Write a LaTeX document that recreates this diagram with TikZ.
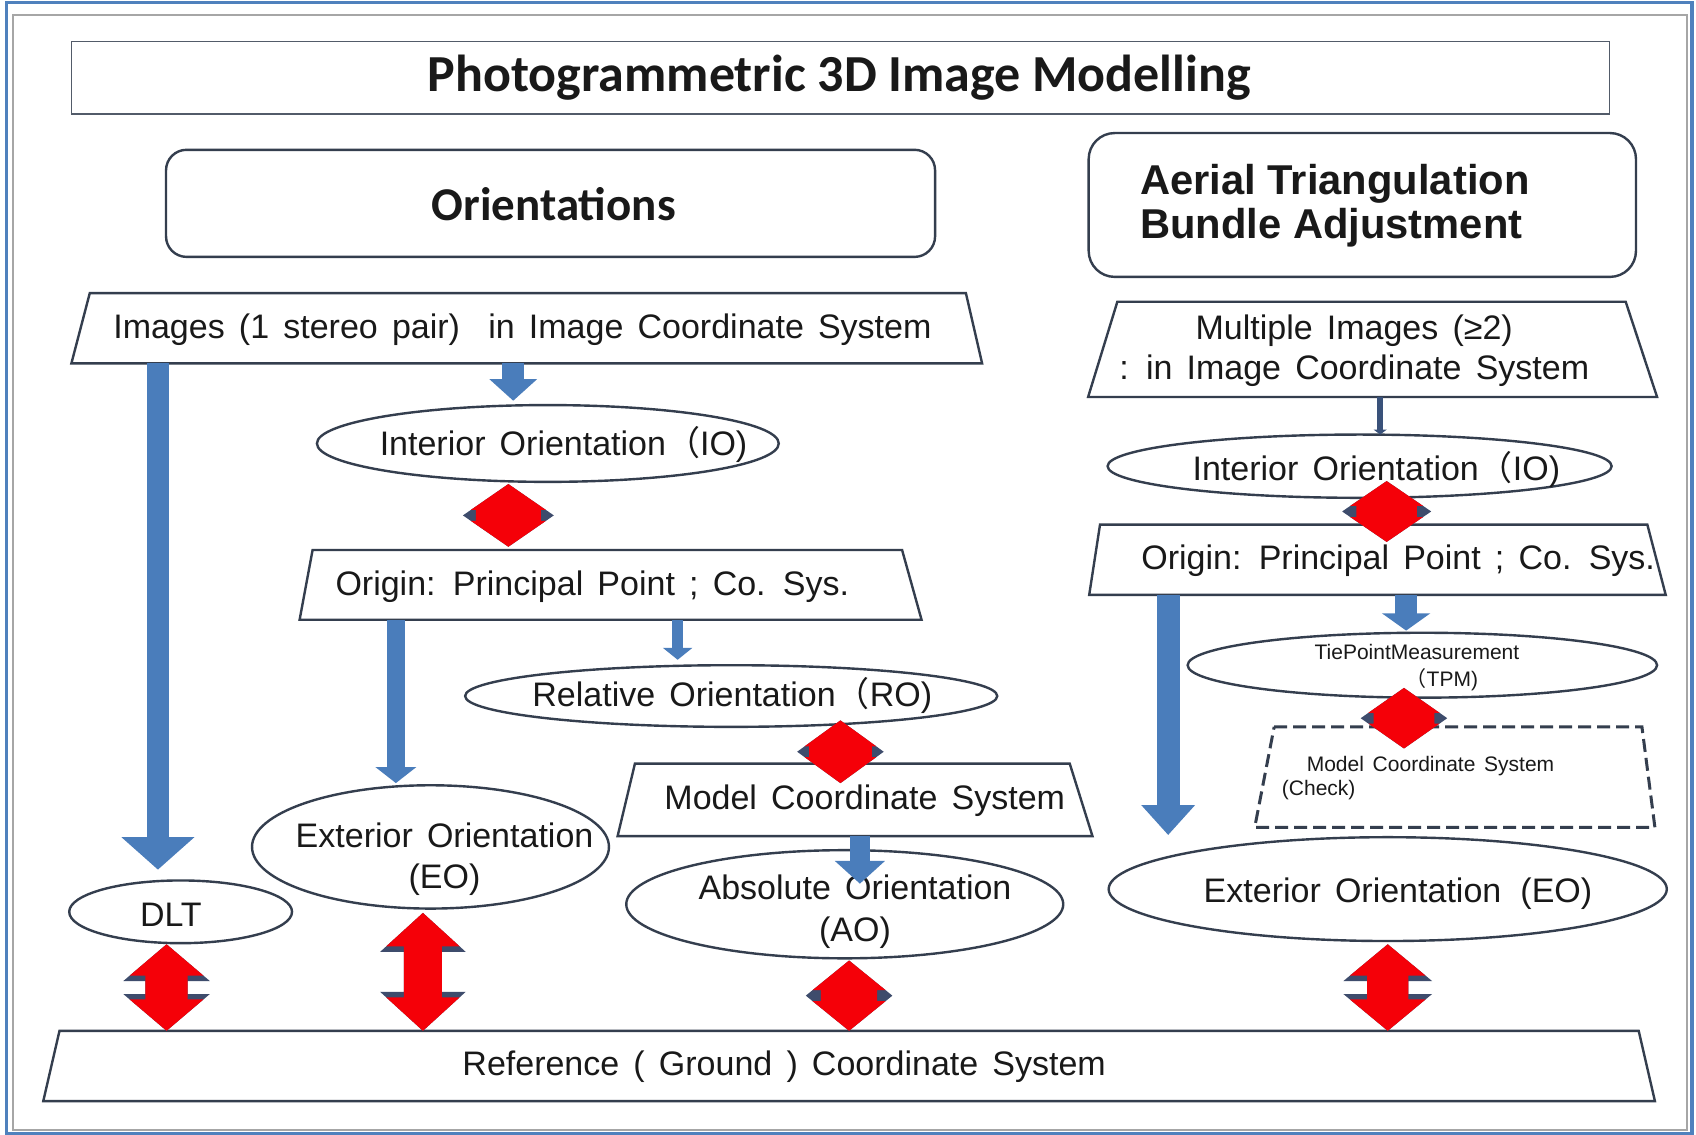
\documentclass[tikz,border=0pt]{standalone}
\usepackage{fontspec}
\setmainfont{Liberation Sans}[WordSpace=1.5]
\newfontfamily\plainfont{Liberation Sans}
\newfontfamily\titlefont{Carlito}
\newfontfamily\cjk{Noto Sans CJK SC}
\usetikzlibrary{shapes.geometric,arrows.meta,calc}
\definecolor{edgec}{RGB}{52,62,78}
\definecolor{bluec}{RGB}{74,125,187}
\definecolor{frameblue}{RGB}{79,129,189}
\definecolor{arrred}{RGB}{245,0,8}
\definecolor{arrdark}{RGB}{62,76,108}
\definecolor{linkc}{RGB}{58,82,122}
\definecolor{txtc}{RGB}{25,25,25}
\newcommand\pxu{1.0816pt}
\newcommand\mainsz{\fontsize{34}{41}\selectfont}
\newcommand\smallsz{\fontsize{21}{27}\selectfont}
\newcommand\fwp{{\cjk （}}
\newcommand\trap[4][]{%
  \draw[shp,#1] ($(#2.north west)+(#3,0)$) -- ($(#2.north east)+(-#4,0)$)
     -- (#2.south east) -- (#2.south west) -- cycle;}
\newcommand\rdarrow[8]{%
  \coordinate (rT0) at (#1,0 |- #2);
  \coordinate (rT) at ($(rT0)+(0,#3)$);
  \coordinate (rB0) at (#1,0 |- #4);
  \coordinate (rB) at ($(rB0)+(0,#5)$);
  \fill[arrdark] (rT) -- ($(rT)+(#7,#6)$) -- ($(rT)+(#8,#6)$) -- ($(rB)+(#8,-#6)$)
    -- ($(rB)+(#7,-#6)$) -- (rB) -- ($(rB)+(-#7,-#6)$) -- ($(rB)+(-#8,-#6)$)
    -- ($(rT)+(-#8,#6)$) -- ($(rT)+(-#7,#6)$) -- cycle;
  \fill[arrred] (rT) -- ($(rT)+({#7*(#6-5)/#6},{#6-5})$) -- ($(rT)+(#8,{#6-5})$)
    -- ($(rB)+(#8,{5-#6})$) -- ($(rB)+({#7*(#6-5)/#6},{5-#6})$) -- (rB)
    -- ($(rB)+({-#7*(#6-5)/#6},{5-#6})$) -- ($(rB)+(-#8,{5-#6})$)
    -- ($(rT)+(-#8,{#6-5})$) -- ($(rT)+({-#7*(#6-5)/#6},{#6-5})$) -- cycle;}
\begin{document}
\begin{tikzpicture}[x=\pxu,y=-\pxu,
  shp/.style={draw=edgec,line width=2.4pt,fill=white},
  lay/.style={rectangle,draw=none,inner sep=0pt,outer sep=0pt},
  ell/.style={ellipse,shp,inner sep=0pt,outer sep=0pt},
  txt/.style={inner sep=0pt,text=txtc,font=\mainsz},
  stxt/.style={inner sep=0pt,text=txtc,font=\smallsz},
  fat/.style n args={3}{draw=bluec,line width=#1,-{Triangle[width=#2,length=#3]}},
]
\useasboundingbox (0,0) rectangle (1568,1049);
\fill[white] (0,0) rectangle (1568,1049);
\draw[frameblue,line width=3.5pt] (6,2.5) rectangle (1564.5,1048);
\draw[black!35,line width=1.8pt] (12,14) rectangle (1559.5,1044.5);

% title
\node[lay,draw=edgec!85,line width=1.5pt,minimum width=1422*\pxu,minimum height=67*\pxu] (title) at (777,72) {};
\node[txt,font={\titlefont\bfseries\fontsize{52}{60}\selectfont}] (titlet) at (776,72) {Photogrammetric 3D Image Modelling};

% headers
\node[shp,rounded corners=20.5pt,minimum width=711*\pxu,minimum height=99*\pxu,inner sep=0pt] (orient) at (509,188) {};
\node[txt,font={\titlefont\bfseries\fontsize{47}{56}\selectfont}] (orientt) at (512,189) {Orientations};
\node[shp,rounded corners=26pt,minimum width=506*\pxu,minimum height=133*\pxu,inner sep=0pt] (aerial) at (1259.5,189.5) {};
\node[txt,font={\plainfont\bfseries\fontsize{41.7}{44}\selectfont},anchor=west,align=left] (aerialt) at (1054,190) {Aerial Triangulation\\Bundle Adjustment};

% left column
\node[lay,minimum width=842*\pxu,minimum height=65*\pxu] (img) at (487,303.5) {};
\trap{img}{17}{15}
\node[txt] (imgt) at (483,305) {Images (1 stereo pair)~ in Image Coordinate System};

\node[ell,minimum width=427*\pxu,minimum height=71*\pxu] (io1) at (506.5,410) {};
\node[txt] (io1t) at (521,411) {Interior Orientation\fwp IO)};

\node[lay,minimum width=575*\pxu,minimum height=64.5*\pxu] (orig1) at (564.5,540.75) {};
\trap{orig1}{12}{18}
\node[txt,anchor=west] (orig1t) at (310,542) {Origin: Principal Point ; Co. Sys.};

\node[ell,minimum width=492*\pxu,minimum height=57*\pxu] (ro) at (676,643.5) {};
\node[txt] (rot) at (677,643) {Relative Orientation\fwp RO)};

\node[lay,minimum width=439*\pxu,minimum height=67*\pxu] (model) at (790.5,739.5) {};
\trap{model}{16}{21}
\node[txt] (modelt) at (799.5,740) {Model Coordinate System};

\node[ell,minimum width=404*\pxu,minimum height=100*\pxu] (ao) at (781,836) {};
\node[txt,align=center,font={\fontsize{34}{41.6}\selectfont}] (aot) at (790.5,843) {Absolute Orientation\\(AO)};

\node[ell,minimum width=330*\pxu,minimum height=114*\pxu] (eo1) at (398,783) {};
\node[txt,align=center] (eo1t) at (411,794) {Exterior Orientation\\(EO)};

\node[ell,minimum width=206*\pxu,minimum height=58*\pxu] (dlt) at (167,843) {};
\node[txt] (dltt) at (158,846) {DLT};

\node[lay,minimum width=1490*\pxu,minimum height=65*\pxu] (ref) at (785,985.5) {};
\trap{ref}{15}{15}
\node[txt] (reft) at (725,986) {Reference ( Ground ) Coordinate System};

% right column
\node[lay,minimum width=526*\pxu,minimum height=88*\pxu] (mi) at (1269,323) {};
\trap{mi}{27}{29}
\node[txt,align=center,font={\fontsize{34}{40}\selectfont}] (mit) at (1252,324) {Multiple Images (≥2)\\: in Image Coordinate System};

\node[ell,minimum width=466*\pxu,minimum height=58.5*\pxu] (io2) at (1257,431) {};
\node[txt] (io2t) at (1272.5,434) {Interior Orientation\fwp IO)};

\node[lay,minimum width=533*\pxu,minimum height=65*\pxu] (orig2) at (1273.5,517.5) {};
\trap{orig2}{10}{17}
\node[txt,anchor=west] (orig2t) at (1055,518) {Origin: Principal Point ; Co. Sys.};

\node[ell,minimum width=434*\pxu,minimum height=60*\pxu] (tpm) at (1315,615) {};
\node[stxt] (tpmt1) at (1310,603) {TiePointMeasurement};
\node[stxt] (tpmt2) at (1333,628) {\fwp TPM)};

\node[lay,minimum width=370*\pxu,minimum height=93*\pxu] (chk) at (1345,718.5) {};
\trap[line width=3pt,dash pattern=on 13pt off 6pt]{chk}{18}{12}
\node[stxt,anchor=west] (chkt1) at (1208,708) {Model Coordinate System};
\node[stxt,anchor=west] (chkt2) at (1185,730) {(Check)};

\node[ell,minimum width=516*\pxu,minimum height=96*\pxu] (eo2) at (1283,822) {};
\node[txt] (eo2t) at (1292.5,826) {Exterior Orientation\hspace{5pt} (EO)};

% blue arrows
\draw[fat={21.6pt}{71pt}{32.4pt}] (146,0 |- img.south) -- ($(146,0 |- dlt.north)+(0,-10)$);
\draw[fat={21.6pt}{46.5pt}{21.6pt}] (474.5,0 |- img.south) -- ($(474.5,0 |- io1.north)+(0,-4)$);
\draw[fat={18.4pt}{40pt}{16pt}] (366,0 |- orig1.south) -- ($(366,0 |- eo1.north)+(0,-2)$);
\draw[fat={10.8pt}{29pt}{12pt}] (626.5,0 |- orig1.south) -- ($(626.5,0 |- ro.north)+(0,-5)$);
\draw[fat={19.5pt}{48.7pt}{22.7pt}] (795,0 |- model.south) -- ($(795,0 |- ao.north)+(0,31)$);
\draw[fat={22.7pt}{52pt}{30pt}] (1080,0 |- orig2.south) -- ($(1080,0 |- eo2.north)+(0,-2)$);
\draw[fat={21.6pt}{47.6pt}{17.3pt}] (1300,0 |- orig2.south) -- ($(1300,0 |- tpm.north)+(0,-2)$);
\draw[linkc,line width=5.4pt,-{Triangle[width=13pt,length=5pt]}] (1276,0 |- mi.south) -- (1276,0 |- io2.north);

% red double arrows
\rdarrow{470}{io1.south}{2}{orig1.north}{-3}{29}{42}{30}
\rdarrow{777}{ro.south}{-6}{model.north}{18}{29}{40}{29}
\rdarrow{1282}{io2.south}{-15.5}{orig2.north}{16}{28}{41}{28}
\rdarrow{1298}{tpm.south}{-9}{chk.north}{20}{28}{40}{28}
\rdarrow{785}{ao.south}{2}{ref.north}{0}{32.5}{40}{26}
\rdarrow{154}{dlt.south}{1}{ref.north}{0}{34}{40}{19.5}
\rdarrow{391}{eo1.south}{4}{ref.north}{0}{36}{39.5}{17.5}
\rdarrow{1283}{eo2.south}{3}{ref.north}{0}{34}{41}{19}
\end{tikzpicture}
\end{document}
